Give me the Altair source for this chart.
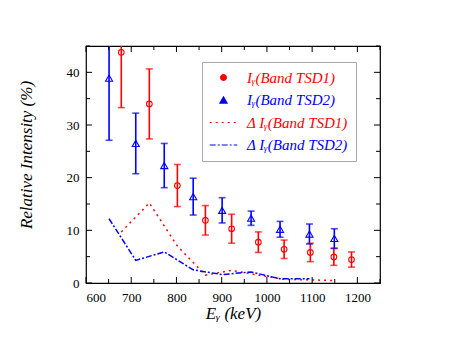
import altair as alt
import pandas as pd

# ---- data ----
red_E = [678, 740, 802, 864, 922, 981, 1038, 1096, 1148, 1187]
red_I = [43.8, 34.0, 18.5, 11.9, 10.3, 7.75, 6.4, 5.8, 4.95, 4.45]
red_err = [10.5, 6.65, 4.0, 2.8, 2.75, 1.95, 1.75, 1.75, 1.6, 1.45]

blue_E = [651, 710, 773, 837, 901, 965, 1029, 1094, 1149]
blue_I = [38.9, 26.5, 22.3, 16.4, 13.8, 12.3, 10.2, 9.3, 8.45]
blue_err = [11.8, 5.75, 4.2, 3.5, 2.4, 1.35, 1.5, 1.9, 1.85]

dred_E = [678, 740, 802, 864, 922, 981, 1038, 1096, 1148]
dred_I = [9.7, 15.2, 7.0, 1.5, 2.4, 1.5, 0.7, 0.6, 0.45]

dblue_E = [651, 710, 773, 837, 901, 965, 1029, 1094]
dblue_I = [12.2, 4.3, 5.9, 2.5, 1.6, 2.1, 0.8, 0.8]

x_major = [600, 700, 800, 900, 1000, 1100, 1200]
x_minor = [650, 750, 850, 950, 1050, 1150, 1250]
y_major = [0, 10, 20, 30, 40]
y_minor = [5, 15, 25, 35, 45]

series_keys = ["I1", "I2", "D1", "D2"]
series_colors = ["#ff0000", "#0000ff", "#ff0000", "#0000ff"]

pts = pd.concat([
    pd.DataFrame({"series": "I1", "E": red_E, "I": red_I, "err": red_err}),
    pd.DataFrame({"series": "I2", "E": blue_E, "I": blue_I, "err": blue_err}),
], ignore_index=True)
pts["lo"] = pts["I"] - pts["err"]
pts["hi"] = pts["I"] + pts["err"]

lines = pd.concat([
    pd.DataFrame({"series": "D1", "E": dred_E, "I": dred_I}),
    pd.DataFrame({"series": "D2", "E": dblue_E, "I": dblue_I}),
], ignore_index=True)

W, H = 294, 237
xs = alt.Scale(domain=[600, 1250], nice=False, zero=False)
ys = alt.Scale(domain=[0, 45], nice=False, zero=False)
cs = alt.Scale(domain=series_keys, range=series_colors)
ss = alt.Scale(domain=["I1", "I2"], range=["circle", "triangle-up"])
zs = alt.Scale(domain=["I1", "I2"], range=[32, 50])
ds = alt.Scale(domain=["D1", "D2"], range=[[2, 4], [6, 2, 2, 2]])

FONT = "Liberation Serif, Times New Roman, serif"

label_expr = ("{'I1': 'I\u1d67(Band TSD1)', 'I2': 'I\u1d67(Band TSD2)', "
              "'D1': '\u0394 I\u1d67(Band TSD1)', 'D2': '\u0394 I\u1d67(Band TSD2)'}[datum.value]")
col_expr = "(datum.value == 'I1' || datum.value == 'D1') ? '#ff0000' : '#0000ff'"
type_expr = "datum.value == 'I1' ? 'circle' : datum.value == 'I2' ? 'triangle-up' : 'M-2.3,0H2.3'"
size_expr = "datum.value == 'I1' ? 32 : datum.value == 'I2' ? 50 : 144"
dash_expr = "datum.value == 'D1' ? [2,4] : datum.value == 'D2' ? [6,2,2,2] : [1,0]"

legend = alt.Legend(
    orient="none", legendX=116, legendY=16, title=None,
    fillColor="white", strokeColor="#aaaaaa", padding=8,
    labelFont=FONT, labelFontStyle="italic", labelFontSize=15,
    labelOffset=16, rowPadding=6.5, labelExpr=label_expr,
    labelColor={"expr": col_expr},
    symbolType={"expr": type_expr},
    symbolSize={"expr": size_expr},
    symbolDash={"expr": dash_expr},
    symbolStrokeColor={"expr": col_expr},
    symbolOffset=6,
    symbolStrokeWidth=1.2,
)

x_enc = alt.X("E:Q", scale=xs, axis=alt.Axis(
    values=x_major, format="d", title="E\u1d67 (keV)", labelPadding=8,
    titleFont=FONT, titleFontStyle="italic", titleFontSize=17, titleFontWeight="normal",
    titleY=30, titleBaseline="middle"))
y_axis = alt.Axis(
    values=y_major, format="d", title="Relative Intensity (%)", labelPadding=7,
    titleFont=FONT, titleFontStyle="italic", titleFontSize=17, titleFontWeight="normal",
    titleX=-60, titleY=H / 2 - 10, titleAngle=270, titleAlign="center", titleBaseline="middle")

base = alt.Chart(pts)

err_rules = base.mark_rule(strokeWidth=1.6, clip=True).encode(
    x=x_enc,
    y=alt.Y("lo:Q", scale=ys, axis=y_axis),
    y2="hi:Q",
    color=alt.Color("series:N", scale=cs, legend=None),
)

caps = base.transform_fold(["lo", "hi"], as_=["which", "val"]).mark_tick(
    orient="horizontal", size=7, thickness=1.6, clip=True
).encode(
    x=alt.X("E:Q", scale=xs),
    y=alt.Y("val:Q", scale=ys),
    color=alt.Color("series:N", scale=cs, legend=None),
)

points = base.mark_point(filled=False, fill="white", strokeWidth=1.1, opacity=1, clip=True).encode(
    x=alt.X("E:Q", scale=xs),
    y=alt.Y("I:Q", scale=ys),
    stroke=alt.Stroke("series:N", scale=cs, legend=legend),
    shape=alt.Shape("series:N", scale=ss, legend=None),
    size=alt.Size("series:N", scale=zs, legend=None),
)

dlines = alt.Chart(lines).mark_line(strokeWidth=1.5, clip=True).encode(
    x=alt.X("E:Q", scale=xs),
    y=alt.Y("I:Q", scale=ys),
    color=alt.Color("series:N", scale=cs, legend=None),
    strokeDash=alt.StrokeDash("series:N", scale=ds, legend=None),
)

# inward frame ticks
xmaj_df = pd.DataFrame({"t": x_major})
xmin_df = pd.DataFrame({"t": x_minor})
ymaj_df = pd.DataFrame({"t": y_major})
ymin_df = pd.DataFrame({"t": y_minor})

def xticks(df, length):
    b = alt.Chart(df).mark_rule(color="black", strokeWidth=1)
    return (b.encode(x=alt.X("t:Q", scale=xs), y=alt.value(H), y2=alt.value(H - length))
            + b.encode(x=alt.X("t:Q", scale=xs), y=alt.value(0), y2=alt.value(length)))

def yticks(df, length):
    b = alt.Chart(df).mark_rule(color="black", strokeWidth=1)
    return (b.encode(y=alt.Y("t:Q", scale=ys), x=alt.value(0), x2=alt.value(length))
            + b.encode(y=alt.Y("t:Q", scale=ys), x=alt.value(W), x2=alt.value(W - length)))

chart = alt.layer(
    points, dlines, err_rules, caps,
    xticks(xmaj_df, 6), xticks(xmin_df, 4), yticks(ymaj_df, 6), yticks(ymin_df, 4),
).properties(
    width=W, height=H,
    padding={"left": 78, "top": 38, "right": 50, "bottom": 50},
    autosize=alt.AutoSizeParams(type="none"),
).configure_view(
    stroke="black", strokeWidth=1.2
).configure_axis(
    domain=False, ticks=False, tickSize=0, grid=False,
    labelFont=FONT, labelFontSize=13, labelColor="black", titleColor="black",
)

chart.save("out.html", embed_options={"renderer": "svg", "actions": False})
